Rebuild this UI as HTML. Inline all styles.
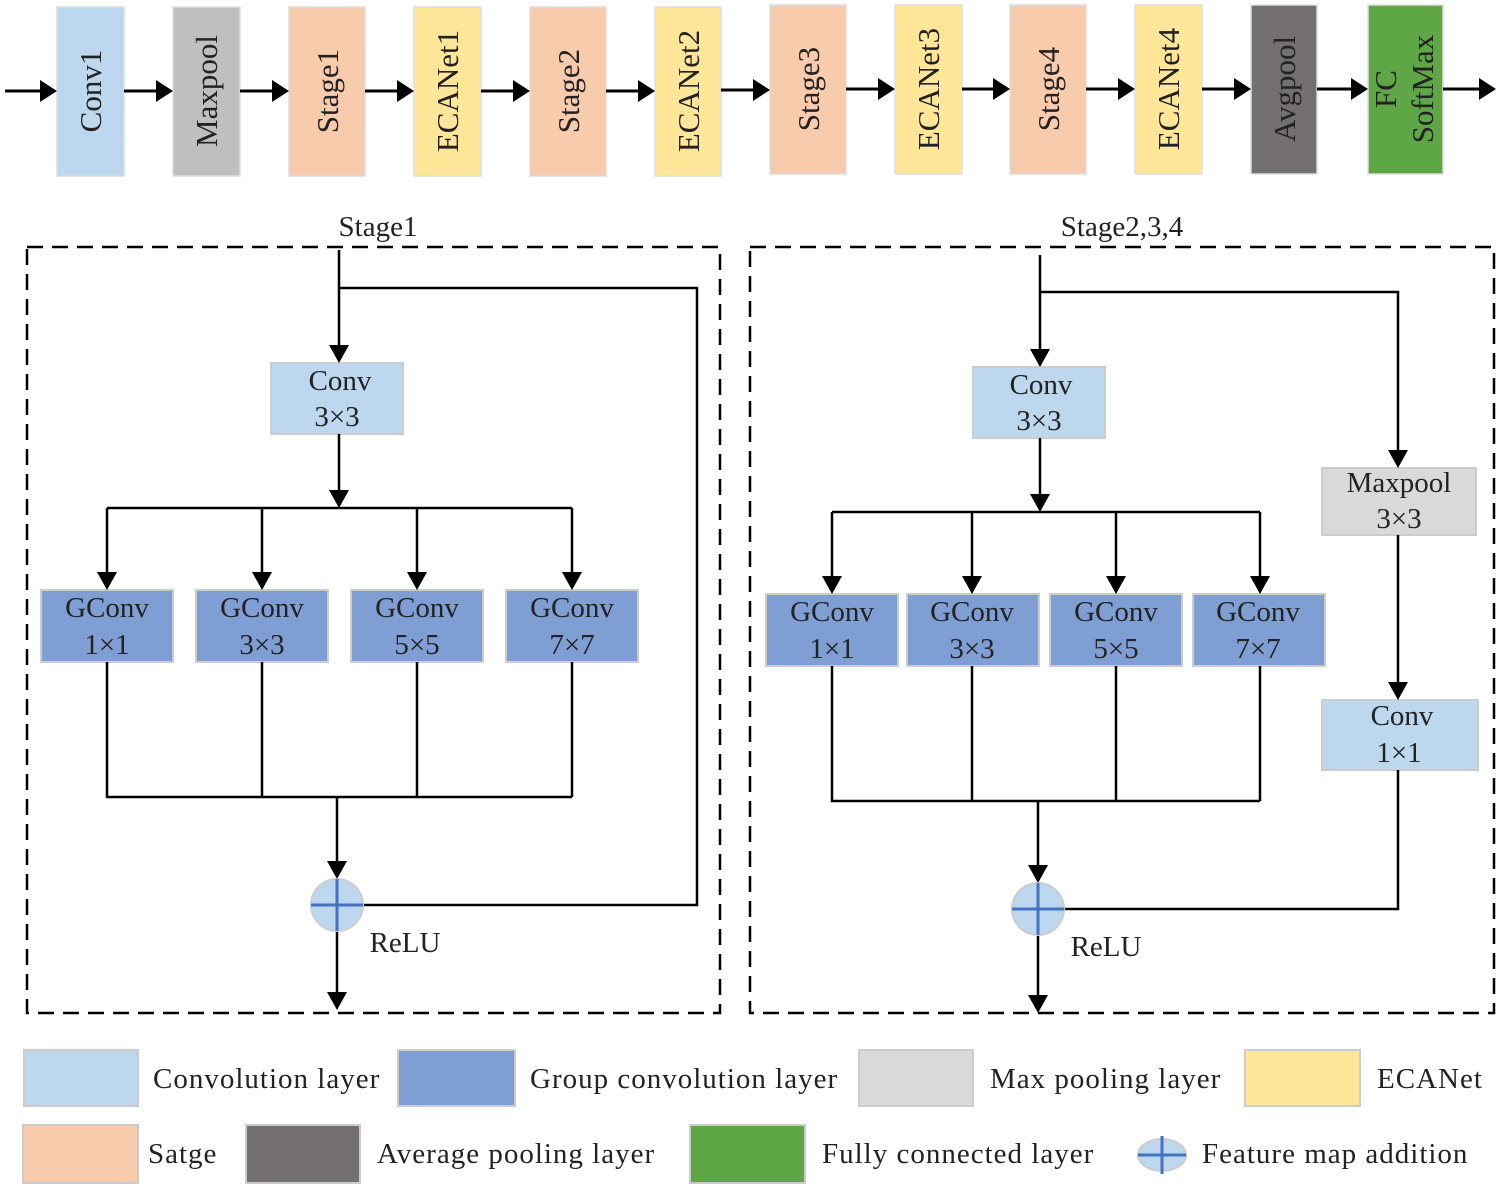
<!DOCTYPE html>
<html><head><meta charset="utf-8"><style>
html,body{margin:0;padding:0;background:#fff;}
svg text{font-family:"Liberation Serif",serif;fill:#222;}
</style></head><body>
<svg width="1500" height="1188" viewBox="0 0 1500 1188" xmlns="http://www.w3.org/2000/svg">
<g stroke="#ddd" stroke-width="1.5">
<rect x="57" y="7" width="67" height="169" fill="#bdd7ee"/>
<rect x="173" y="7" width="67" height="169" fill="#bfbfbf"/>
<rect x="289" y="7" width="76" height="169" fill="#f8cbad"/>
<rect x="414" y="7" width="67" height="169" fill="#ffe699"/>
<rect x="530" y="7" width="76" height="169" fill="#f8cbad"/>
<rect x="655" y="7" width="66" height="169" fill="#ffe699"/>
<rect x="770" y="5" width="76" height="169" fill="#f8cbad"/>
<rect x="895" y="5" width="67" height="169" fill="#ffe699"/>
<rect x="1010" y="5" width="76" height="169" fill="#f8cbad"/>
<rect x="1135" y="5" width="67" height="169" fill="#ffe699"/>
<rect x="1251" y="5" width="66" height="169" fill="#757070"/>
<rect x="1368" y="5" width="75" height="169" fill="#5ea646"/>
</g>
<g font-size="31" text-anchor="middle">
<text transform="translate(101,91) rotate(-90)">Conv1</text>
<text transform="translate(217,91) rotate(-90)">Maxpool</text>
<text transform="translate(338,91) rotate(-90)">Stage1</text>
<text transform="translate(458,91) rotate(-90)">ECANet1</text>
<text transform="translate(579,91) rotate(-90)">Stage2</text>
<text transform="translate(699,91) rotate(-90)">ECANet2</text>
<text transform="translate(819,89) rotate(-90)">Stage3</text>
<text transform="translate(939,89) rotate(-90)">ECANet3</text>
<text transform="translate(1059,89) rotate(-90)">Stage4</text>
<text transform="translate(1179,89) rotate(-90)">ECANet4</text>
<text transform="translate(1295,89) rotate(-90)">Avgpool</text>
<text transform="translate(1396,89) rotate(-90)">FC</text>
<text transform="translate(1433,89) rotate(-90)">SoftMax</text>
</g>
<g stroke="#000" stroke-width="3" fill="none">
<path d="M5 91H42M124 91H158M240 91H274M365 91H399M481 91H515M606 91H640M721 90H755M846 89H880M962 89H995M1086 89H1120M1202 89H1236M1317 89H1353M1443 89H1480"/>
</g>
<g fill="#000">
<path d="M57 91l-17-11v22zM173 91l-17-11v22zM289 91l-17-11v22zM414 91l-17-11v22zM530 91l-17-11v22zM655 91l-17-11v22zM770 90l-17-11v22zM895 89l-17-11v22zM1010 89l-17-11v22zM1135 89l-17-11v22zM1251 89l-17-11v22zM1368 89l-17-11v22zM1496 89l-17-11v22z"/>
</g>
<text x="378" y="236" font-size="29" text-anchor="middle">Stage1</text>
<text x="1122" y="236" font-size="29" text-anchor="middle">Stage2,3,4</text>
<g stroke="#000" stroke-width="2.5" fill="none" stroke-dasharray="16,9">
<rect x="27" y="247" width="693" height="766"/>
<rect x="750" y="247" width="744" height="766"/>
</g>
<g stroke="#ccc" stroke-width="2">
<rect x="271" y="363" width="132" height="71" fill="#bdd7ee"/>
<rect x="41" y="590" width="132" height="72" fill="#7f9ed4"/>
<rect x="196" y="590" width="132" height="72" fill="#7f9ed4"/>
<rect x="351" y="590" width="132" height="72" fill="#7f9ed4"/>
<rect x="506" y="590" width="132" height="72" fill="#7f9ed4"/>
<rect x="973" y="367" width="132" height="71" fill="#bdd7ee"/>
<rect x="1322" y="468" width="154" height="67" fill="#d9d9d9"/>
<rect x="1322" y="700" width="156" height="70" fill="#bdd7ee"/>
<rect x="766" y="594" width="132" height="72" fill="#7f9ed4"/>
<rect x="907" y="594" width="132" height="72" fill="#7f9ed4"/>
<rect x="1050" y="594" width="132" height="72" fill="#7f9ed4"/>
<rect x="1193" y="594" width="132" height="72" fill="#7f9ed4"/>
</g>
<g font-size="29" text-anchor="middle">
<text x="340" y="390">Conv</text><text x="337" y="426">3×3</text>
<text x="107" y="617">GConv</text><text x="107" y="654">1×1</text>
<text x="262" y="617">GConv</text><text x="262" y="654">3×3</text>
<text x="417" y="617">GConv</text><text x="417" y="654">5×5</text>
<text x="572" y="617">GConv</text><text x="572" y="654">7×7</text>
<text x="1041" y="394">Conv</text><text x="1039" y="430">3×3</text>
<text x="1399" y="492">Maxpool</text><text x="1399" y="528">3×3</text>
<text x="1402" y="725">Conv</text><text x="1399" y="762">1×1</text>
<text x="832" y="621">GConv</text><text x="832" y="658">1×1</text>
<text x="972" y="621">GConv</text><text x="972" y="658">3×3</text>
<text x="1116" y="621">GConv</text><text x="1116" y="658">5×5</text>
<text x="1258" y="621">GConv</text><text x="1258" y="658">7×7</text>
<text x="405" y="952">ReLU</text>
<text x="1106" y="956">ReLU</text>
</g>
<g stroke="#000" stroke-width="2.5" fill="none">
<path d="M339 250V350M339 288H697V905H362M339 434V492M107 508H572M107 508V576M262 508V576M417 508V576M572 508V576M107 662V797H572M262 662V797M417 662V797M572 662V797M337 797V865M337 932V995"/>
<path d="M1040 255V352M1040 292H1398V452M1040 438V497M832 512H1260M832 512V580M972 512V580M1116 512V580M1260 512V580M832 666V801H1260M972 666V801M1116 666V801M1260 666V801M1038 801V869M1398 535V686M1398 770V909H1063M1038 936V998"/>
</g>
<g fill="#000">
<path d="M339 363l-10-18h20zM339 508l-10-18h20zM107 590l-10-18h20zM262 590l-10-18h20zM417 590l-10-18h20zM572 590l-10-18h20zM337 879l-10-18h20zM337 1010l-10-18h20z"/>
<path d="M1040 367l-10-18h20zM1040 512l-10-18h20zM832 594l-10-18h20zM972 594l-10-18h20zM1116 594l-10-18h20zM1260 594l-10-18h20zM1038 883l-10-18h20zM1038 1013l-10-18h20zM1398 468l-10-18h20zM1398 700l-10-18h20z"/>
</g>
<g>
<ellipse cx="337" cy="905" rx="26" ry="26" fill="#bdd7ee" stroke="#ccc" stroke-width="2"/>
<path d="M311 905H363M337 879V931" stroke="#4472c4" stroke-width="3"/>
<ellipse cx="1038" cy="909" rx="26" ry="26" fill="#bdd7ee" stroke="#ccc" stroke-width="2"/>
<path d="M1012 909H1064M1038 883V935" stroke="#4472c4" stroke-width="3"/>
</g>
<g stroke="#ccc" stroke-width="2">
<rect x="24" y="1050" width="114" height="56" fill="#bdd7ee"/>
<rect x="398" y="1050" width="117" height="56" fill="#7f9ed4"/>
<rect x="859" y="1050" width="114" height="56" fill="#d9d9d9"/>
<rect x="1245" y="1050" width="115" height="56" fill="#ffe699"/>
<rect x="23" y="1125" width="115" height="58" fill="#f8cbad"/>
<rect x="246" y="1125" width="114" height="58" fill="#757070"/>
<rect x="690" y="1125" width="115" height="58" fill="#5ea646"/>
</g>
<ellipse cx="1162" cy="1155" rx="24" ry="16" fill="#bdd7ee" stroke="#ccc" stroke-width="2"/>
<path d="M1138 1155H1186M1162 1136V1174" stroke="#4472c4" stroke-width="3"/>
<g font-size="29" letter-spacing="1">
<text x="153" y="1088">Convolution layer</text>
<text x="530" y="1088">Group convolution layer</text>
<text x="990" y="1088">Max pooling layer</text>
<text x="1377" y="1088">ECANet</text>
<text x="148" y="1163">Satge</text>
<text x="377" y="1163">Average pooling layer</text>
<text x="822" y="1163">Fully connected layer</text>
<text x="1202" y="1163">Feature map addition</text>
</g>
</svg>
</body></html>
